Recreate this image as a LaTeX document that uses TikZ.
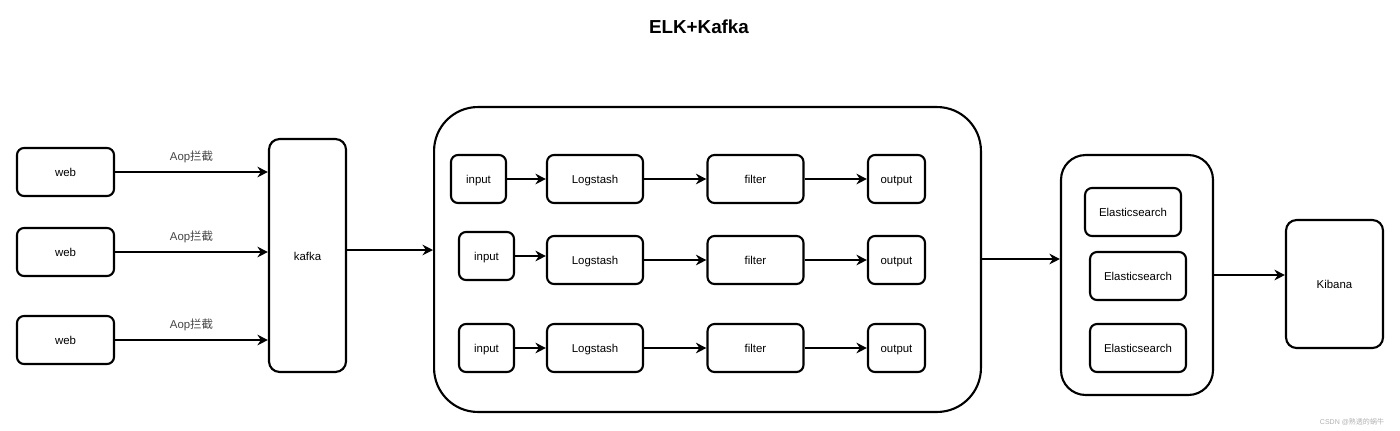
\documentclass[tikz,border=0pt]{standalone}
\usepackage{fontspec}
\setmainfont{Liberation Sans}
\newfontfamily\cjk{Noto Sans CJK SC}
\usepackage{xcolor}
\definecolor{cLine}{HTML}{000000}
\definecolor{cLabel}{HTML}{444444}
\definecolor{cMark}{HTML}{B0B0B0}
\usetikzlibrary{positioning,arrows.meta,calc}
\tikzset{
  node-box/.style={draw=cLine,line width=1.2pt,rounded corners=4pt,
    inner sep=0pt,minimum height=0.96cm,minimum width=1.92cm,
    text height=0.72em,text depth=0.2em,
    font=\fontsize{6.5}{7.8}\selectfont},
  node-small/.style={node-box,minimum width=1.12cm},
  node-tall/.style={node-box,rounded corners=6pt},
  node-group/.style={draw=cLine,line width=1.2pt,inner sep=0pt},
  arrow/.style={-{Stealth[length=6pt,width=6pt,inset=2pt]},line width=1.2pt,draw=cLine},
  edge-label/.style={text=cLabel,font=\fontsize{6.5}{7.8}\selectfont},
}

\begin{document}
\begin{tikzpicture}[x=0.02cm,y=-0.02cm]
  \useasboundingbox (0,0) rectangle (1400,430);
  \node[font=\bfseries\fontsize{10.7}{12.8}\selectfont] (title) at (699,27) {ELK+Kafka};

  % sources
  \node[node-box,minimum width=1.94cm] (web1) at (65.5,172) {web};
  \node[node-box,minimum width=1.94cm] (web2) at (65.5,252) {web};
  \node[node-box,minimum width=1.94cm] (web3) at (65.5,340) {web};
  \node[node-tall,minimum width=1.54cm,minimum height=4.66cm] (kafka) at (307.5,255.5) {kafka};
  \draw[arrow] (web1) -- (web1 -| kafka.west) node[edge-label,midway,above=1.5pt] {Aop{\cjk 拦截}};
  \draw[arrow] (web2) -- (web2 -| kafka.west) node[edge-label,midway,above=1.5pt] {Aop{\cjk 拦截}};
  \draw[arrow] (web3) -- (web3 -| kafka.west) node[edge-label,midway,above=1.5pt] {Aop{\cjk 拦截}};

  % logstash pipelines
  \node[node-group,rounded corners=25pt,minimum width=10.94cm,minimum height=6.1cm] (pipes) at (707.5,259.5) {};
  \node[node-small,minimum width=1.1cm] (in1) at (478.5,179) {input};
  \node[node-small,minimum width=1.1cm] (in2) at (486.5,256) {input};
  \node[node-small,minimum width=1.1cm] (in3) at (486.5,348) {input};
  \foreach \r/\y in {1/179,2/260,3/348} {
    \node[node-box] (ls\r) at (595,\y) {Logstash};
    \node[node-box] (flt\r) at (755.5,\y) {filter};
    \node[node-small,minimum width=1.14cm] (out\r) at (896.5,\y) {output};
    \draw[arrow] (ls\r) -- (flt\r);
    \draw[arrow] (flt\r) -- (out\r);
  }
  \draw[arrow] (in1) -- (ls1);
  \draw[arrow] (in2.east) -- (in2.east -| ls2.west);
  \draw[arrow] (in3) -- (ls3);
  \draw[arrow] ([yshift=0.11cm]kafka.east) -- ([yshift=0.11cm]kafka.east -| pipes.west);

  % storage and view
  \node[node-group,rounded corners=14pt,minimum width=3.04cm,minimum height=4.8cm] (esgrp) at (1137,275) {};
  \node[node-box] (es1) at (1133,212) {Elasticsearch};
  \node[node-box] (es2) at (1138,276) {Elasticsearch};
  \node[node-box] (es3) at (1138,348) {Elasticsearch};
  \node[node-tall,minimum width=1.94cm,minimum height=2.56cm] (kibana) at (1334.5,284) {Kibana};
  \draw[arrow] ([yshift=0.01cm]pipes.east) -- ([yshift=0.01cm]pipes.east -| esgrp.west);
  \draw[arrow] (esgrp.east) -- (esgrp.east -| kibana.west);

  \node[text=cMark,font=\fontsize{4}{5}\selectfont] (mark) at (1352,422) {CSDN @{\cjk 熟透的蜗牛}};
\end{tikzpicture}
\end{document}
